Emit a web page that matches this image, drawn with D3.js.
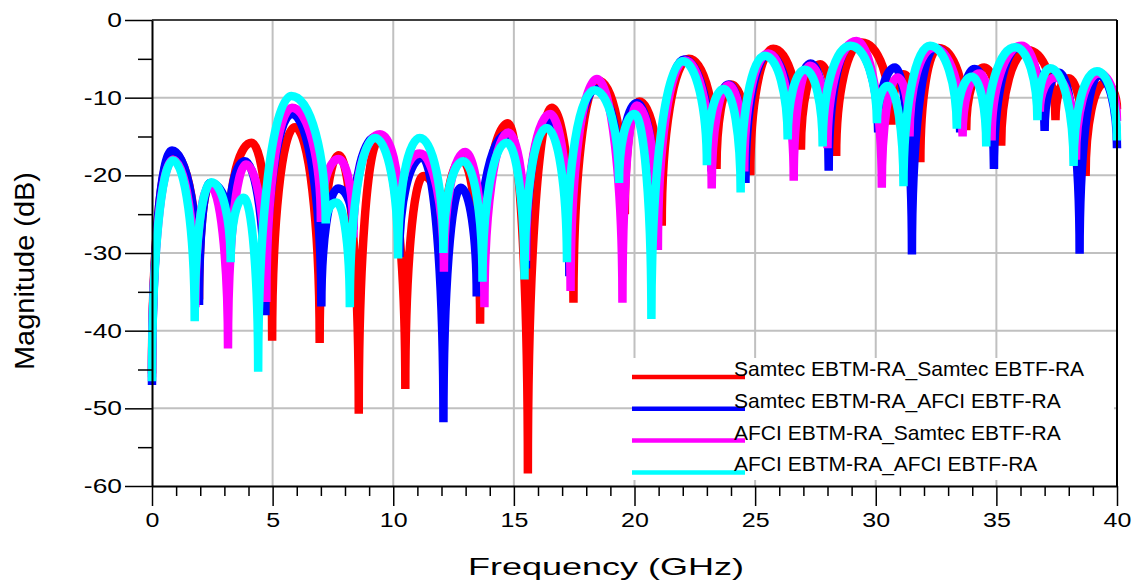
<!DOCTYPE html>
<html><head><meta charset="utf-8">
<script src="https://cdn.jsdelivr.net/npm/d3@7"></script>
<style>body{margin:0;background:#fff}svg{display:block}</style>
</head><body><svg id="c" width="1137" height="584"></svg>
<script>
const seriesNames = ["Samtec EBTM-RA_Samtec EBTF-RA","Samtec EBTM-RA_AFCI EBTF-RA","AFCI EBTM-RA_Samtec EBTF-RA","AFCI EBTM-RA_AFCI EBTF-RA"];
const seriesColors = ["#ff0000","#0000ff","#ff00ff","#00ffff"];

// peaks and nulls (GHz, dB)
const redFreq = [0,0.85,1.95,2.4,3.2,4.13,4.98,5.92,6.95,7.74,8.57,9.4,10.5,11.25,12.1,12.85,13.6,14.75,15.58,16.57,17.47,18.5,19.6,20.2,21.13,22.25,23.4,24.0,24.8,25.75,26.9,27.7,28.36,29.42,30.65,31.15,31.85,32.6,33.75,34.5,35.2,36.3,37.45,38.0,38.7,39.5,40];
const redDb   = [-45.5,-17.0,-36,-21.2,-27.5,-15.8,-41.3,-13.8,-41.6,-17.4,-50.7,-15.5,-47.5,-20.1,-30,-18.0,-39.1,-13.3,-58.4,-11.3,-36.4,-7.8,-25,-10.5,-26.5,-5.0,-19.2,-8.3,-20,-3.7,-16.7,-5.7,-17.5,-2.9,-13.5,-7.0,-18.3,-3.6,-14.2,-6.1,-16.2,-3.9,-12.9,-7.5,-20.1,-8.1,-11.5];

const blueFreq = [0,0.83,1.95,2.4,3.2,3.85,4.7,5.8,7.02,7.71,8.35,9.3,10.25,11.2,12.08,12.8,13.46,14.7,15.5,16.4,17.3,18.4,19.4,20.1,20.95,22.05,23.2,23.9,24.6,25.55,26.6,27.3,28.05,28.98,30.1,30.8,31.5,32.45,33.5,34.1,34.9,35.9,37.0,37.6,38.45,39.25,40];
const blueDb   = [-47,-16.8,-36.7,-21.0,-26.5,-18.2,-38,-12.1,-36.9,-21.7,-27,-15.0,-30.5,-17.7,-51.8,-21.6,-35.6,-14.7,-32,-13.0,-33,-8.9,-22,-10.7,-29.5,-5.1,-19.5,-8.3,-21,-4.4,-17.5,-5.6,-19.4,-3.2,-14.5,-6.1,-30.2,-3.6,-14.5,-6.3,-19.2,-3.6,-14.3,-6.8,-30.1,-7.1,-16.5];

const magentaFreq = [0,0.87,1.8,2.4,3.15,3.9,4.74,5.8,7.0,7.74,8.35,9.45,10.25,11.1,12.1,12.98,13.78,14.77,15.5,16.5,17.35,18.44,19.5,20.1,20.97,22.1,23.2,23.9,24.55,25.55,26.6,27.28,28.0,29.2,30.25,30.9,31.4,32.4,33.6,34.3,34.8,36.05,36.8,37.45,38.3,39.25,40];
const magentaDb   = [-46,-18,-37,-21.3,-42.3,-18.6,-36.3,-11.3,-26,-17.9,-28,-14.7,-25,-17.2,-32.4,-17.0,-37,-14.5,-31,-12.1,-34.9,-7.6,-36.4,-11,-29.6,-5.2,-21.7,-8.4,-19.5,-4.3,-20.7,-5.9,-16.5,-2.7,-21.6,-7.4,-15,-3.6,-15,-6.9,-15.5,-3.3,-11.8,-7.4,-18,-6.9,-13];

const cyanFreq = [0,0.87,1.77,2.46,3.26,3.8,4.4,5.78,7.2,7.65,8.2,9.24,10.2,11.1,12.08,12.9,13.7,14.7,15.44,16.36,17.2,18.34,19.36,20.0,20.7,22.0,23.0,23.7,24.4,25.4,26.35,27.07,27.8,28.95,30.05,30.5,31.15,32.25,33.36,33.98,34.58,35.78,36.7,37.23,38.2,39.17,40];
const cyanDb   = [-46.5,-18.1,-38.8,-20.9,-31.2,-22.9,-45.3,-9.8,-26.2,-23.5,-37.0,-15.2,-30.7,-15.2,-30,-18.2,-33.7,-15.8,-33.4,-13.9,-31.2,-9.05,-21,-12.1,-38.5,-5.3,-18.7,-8.9,-22.2,-4.6,-15.4,-6.4,-16.3,-3.3,-13.3,-8.5,-21.4,-3.3,-14,-7.3,-16.3,-3.5,-12.9,-6.2,-18.8,-6.6,-15.5];

const xTicks = [0,5,10,15,20,25,30,35,40];
const xMinorTicks = d3.range(0,41,1);
const yTicks = [0,-10,-20,-30,-40,-50,-60];
const yMinorTicks = [-5,-15,-25,-35,-45,-55];

const series = [
  {name:seriesNames[0], color:seriesColors[0], f:redFreq, v:redDb},
  {name:seriesNames[1], color:seriesColors[1], f:blueFreq, v:blueDb},
  {name:seriesNames[2], color:seriesColors[2], f:magentaFreq, v:magentaDb},
  {name:seriesNames[3], color:seriesColors[3], f:cyanFreq, v:cyanDb}
];

const FONT = "'Liberation Sans', Arial, sans-serif";
const m = {l:152, r:1117, t:20, b:486};
const x = d3.scaleLinear().domain([0,40]).range([m.l,m.r]);
const y = d3.scaleLinear().domain([-60,0]).range([m.b,m.t]);
const svg = d3.select("#c");

// grid
svg.append("g").selectAll("line").data(xTicks.slice(1,-1)).join("line")
  .attr("x1",d=>x(d)).attr("x2",d=>x(d)).attr("y1",m.t).attr("y2",m.b)
  .attr("stroke","#c0c0c0").attr("stroke-width",2);
svg.append("g").selectAll("line").data(yTicks.slice(1,-1)).join("line")
  .attr("x1",m.l).attr("x2",m.r).attr("y1",d=>y(d)).attr("y2",d=>y(d))
  .attr("stroke","#c0c0c0").attr("stroke-width",2);

// arch curve: vertical tangent at nulls, horizontal at peaks
function ArchCurve(ctx){this._c=ctx;}
ArchCurve.prototype = {
  areaStart(){}, areaEnd(){},
  lineStart(){this._p=[];},
  point(px,py){this._p.push([+px,+py]);},
  lineEnd(){
    const p=this._p, c=this._c, k=0.5523;
    if(!p.length) return;
    c.moveTo(p[0][0],p[0][1]);
    for(let i=1;i<p.length;i++){
      const [x0,y0]=p[i-1],[x1,y1]=p[i];
      if(y1<y0) c.bezierCurveTo(x0, y0+k*(y1-y0), x1-k*(x1-x0), y1, x1, y1);
      else c.bezierCurveTo(x0+k*(x1-x0), y0, x1, y1-k*(y1-y0), x1, y1);
    }
  }
};
const archCurve = ctx => new ArchCurve(ctx);

const line = d3.line().x(d=>x(d[0])).y(d=>y(d[1])).curve(archCurve);
svg.append("g").selectAll("path").data(series).join("path")
  .attr("d", s => line(s.f.map((f,i)=>[f,s.v[i]])))
  .attr("fill","none").attr("stroke",s=>s.color).attr("stroke-width",8.5)
  .attr("stroke-linejoin","bevel");

// legend box
const lg = svg.append("g");
lg.append("rect").attr("x",633).attr("y",358).attr("width",481).attr("height",122).attr("fill","#fff");
series.forEach((s,i)=>{
  const yy = 377 + i*31.8;
  lg.append("line").attr("x1",632).attr("x2",745).attr("y1",yy).attr("y2",yy)
    .attr("stroke",s.color).attr("stroke-width",4.5);
  lg.append("text").attr("x",734).attr("y",yy-1).text(s.name)
    .attr("font-family",FONT).attr("font-size",21).attr("fill","#000");
});

// frame
svg.append("line").attr("x1",m.l).attr("x2",m.r).attr("y1",m.t).attr("y2",m.t).attr("stroke","#404040").attr("stroke-width",2);
svg.append("line").attr("x1",m.r).attr("x2",m.r).attr("y1",m.t).attr("y2",m.b).attr("stroke","#000").attr("stroke-width",2);

// y axis
const ya = svg.append("g").attr("transform",`translate(${m.l},0)`)
  .call(d3.axisLeft(y).tickValues(yTicks).tickSize(27).tickSizeOuter(0).tickPadding(3).tickFormat(d=>String(d)));
ya.append("g").call(d3.axisLeft(y).tickValues(yMinorTicks).tickSize(14).tickFormat(""))
  .select(".domain").remove();
ya.selectAll("text").attr("font-family",FONT).attr("font-size",20).attr("fill","#000")
  .attr("x",-30/1.32).attr("transform","scale(1.32,1)");

// x axis
const xa = svg.append("g").attr("transform",`translate(0,${m.b})`)
  .call(d3.axisBottom(x).tickValues(xTicks).tickSize(20).tickSizeOuter(0).tickPadding(7).tickFormat(d=>String(d)));
xa.append("g").call(d3.axisBottom(x).tickValues(xMinorTicks.filter(d=>d%5)).tickSize(10).tickFormat(""))
  .select(".domain").remove();
xa.selectAll("text").attr("font-family",FONT).attr("font-size",20).attr("fill","#000")
  .attr("transform","scale(1.25,1)");
svg.selectAll(".domain").attr("stroke","#000").attr("stroke-width",2);
svg.selectAll(".tick line").attr("stroke","#000").attr("stroke-width",1.5);

// titles
svg.append("text").attr("x",606).attr("y",575).attr("text-anchor","middle")
  .attr("font-family",FONT).attr("font-size",24).attr("textLength",276).attr("lengthAdjust","spacingAndGlyphs")
  .text("Frequency (GHz)");
svg.append("text").attr("transform","translate(34,271) rotate(-90)").attr("text-anchor","middle")
  .attr("font-family",FONT).attr("font-size",27).attr("textLength",198).attr("lengthAdjust","spacingAndGlyphs")
  .text("Magnitude (dB)");
</script></body></html>
